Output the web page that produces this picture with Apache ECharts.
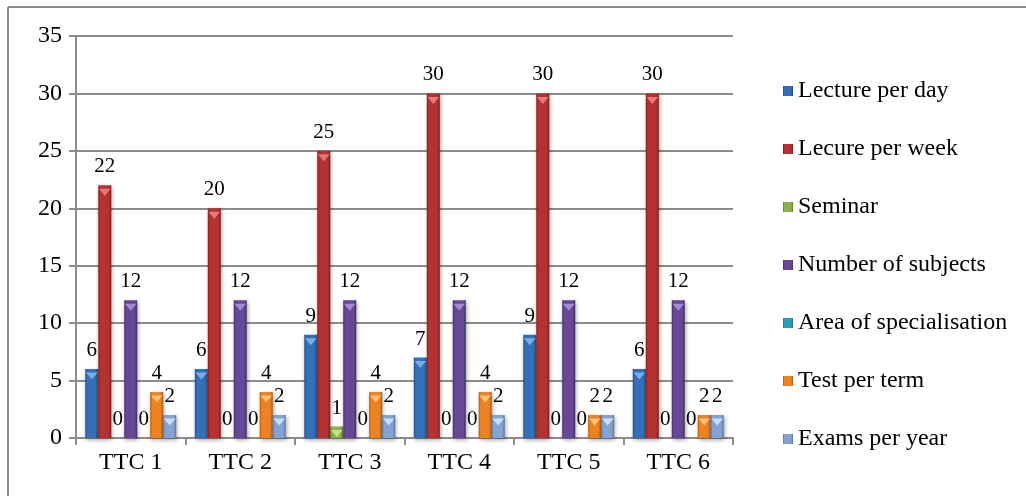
<!DOCTYPE html>
<html>
<head>
<meta charset="utf-8">
<script src="https://cdn.jsdelivr.net/npm/echarts@6/dist/echarts.min.js"></script>
<style>
  html, body { margin: 0; padding: 0; background: #fff; }
  #chart { width: 1026px; height: 496px; }
</style>
</head>
<body>
<div id="chart"></div>
<script>
// Teacher training colleges and their weekly workload figures
const categories = ['TTC 1', 'TTC 2', 'TTC 3', 'TTC 4', 'TTC 5', 'TTC 6'];
const seriesNames = [
  'Lecture per day',
  'Lecure per week',
  'Seminar',
  'Number of subjects',
  'Area of specialisation',
  'Test per term',
  'Exams per year'
];
const lecturePerDay = [6, 6, 9, 7, 9, 6];
const lecurePerWeek = [22, 20, 25, 30, 30, 30];
const seminar = [0, 0, 1, 0, 0, 0];
const numberOfSubjects = [12, 12, 12, 12, 12, 12];
const areaOfSpecialisation = [0, 0, 0, 0, 0, 0];
const testPerTerm = [4, 4, 4, 4, 2, 2];
const examsPerYear = [2, 2, 2, 2, 2, 2];
const yTicks = { min: 0, max: 35, interval: 5 };

const seriesValues = [
  lecturePerDay, lecurePerWeek, seminar, numberOfSubjects,
  areaOfSpecialisation, testPerTerm, examsPerYear
];

// base, dark edge, and light cap colours for each series
const palette = [
  { base: '#3370b8', dark: '#1d4a85', cap: '#78aeea' },
  { base: '#b53232', dark: '#7a1d1d', cap: '#e57878' },
  { base: '#8bb448', dark: '#5a7b26', cap: '#c4e08a' },
  { base: '#674896', dark: '#422d66', cap: '#a48ad0' },
  { base: '#2d9fbb', dark: '#1a6d82', cap: '#80d4ea' },
  { base: '#ec8222', dark: '#ad570f', cap: '#ffc278' },
  { base: '#84a3d3', dark: '#5674a5', cap: '#cadef7' }
];

const serif = 'Liberation Serif';
const barCategoryGap = '17%';

function bevelFill(c) {
  return new echarts.graphic.LinearGradient(0, 0, 1, 0, [
    { offset: 0, color: c.dark },
    { offset: 0.15, color: c.base },
    { offset: 0.8, color: c.base },
    { offset: 1, color: c.dark }
  ]);
}

const barSeries = seriesNames.map((name, i) => ({
  name: name,
  type: 'bar',
  data: seriesValues[i],
  barGap: '0%',
  barCategoryGap: barCategoryGap,
  itemStyle: {
    color: bevelFill(palette[i]),
    shadowColor: 'rgba(0,0,0,0.35)',
    shadowBlur: 4,
    shadowOffsetX: 1,
    shadowOffsetY: 2
  },
  label: {
    show: true,
    position: 'top',
    distance: 8,
    color: '#000',
    fontFamily: serif,
    fontSize: 21
  },
  z: 2
}));

// small inverted pyramid on the top face of each bar
const capSeries = seriesNames.map((name, i) => ({
  name: name,
  type: 'pictorialBar',
  data: seriesValues[i].map(v => (v > 0 ? v : '-')),
  barGap: '0%',
  barCategoryGap: barCategoryGap,
  symbol: 'triangle',
  symbolRotate: 180,
  symbolSize: ['90%', 7],
  symbolPosition: 'end',
  symbolOffset: [0, '50%'],
  itemStyle: { color: palette[i].cap },
  silent: true,
  z: 3
}));

const chart = echarts.init(document.getElementById('chart'), null, { renderer: 'canvas' });
chart.setOption({
  animation: false,
  backgroundColor: '#fff',
  textStyle: { fontFamily: serif },
  color: palette.map(c => c.base),
  grid: { left: 76, right: 293, top: 36, bottom: 58 },
  legend: {
    orient: 'vertical',
    left: 778,
    top: 74,
    data: seriesNames,
    icon: 'rect',
    itemWidth: 10,
    itemHeight: 10,
    itemGap: 34,
    textStyle: { fontFamily: serif, fontSize: 24, color: '#000' }
  },
  xAxis: {
    type: 'category',
    data: categories,
    axisLine: { lineStyle: { color: '#8c8c8c', width: 2 } },
    axisTick: { show: true, length: 7, lineStyle: { color: '#8c8c8c', width: 2 } },
    axisLabel: { fontFamily: serif, fontSize: 24, color: '#000', margin: 13 }
  },
  yAxis: {
    type: 'value',
    min: yTicks.min,
    max: yTicks.max,
    interval: yTicks.interval,
    axisLine: { show: true, lineStyle: { color: '#8c8c8c', width: 2 } },
    axisTick: { show: true, length: 7, lineStyle: { color: '#8c8c8c', width: 2 } },
    axisLabel: { fontFamily: serif, fontSize: 24, color: '#000', margin: 14 },
    splitLine: { lineStyle: { color: '#8c8c8c', width: 2 } }
  },
  graphic: [
    { type: 'line', shape: { x1: 8, y1: 7, x2: 1026, y2: 7 }, style: { stroke: '#8c8c8c', lineWidth: 2 } },
    { type: 'line', shape: { x1: 8, y1: 7, x2: 8, y2: 496 }, style: { stroke: '#8c8c8c', lineWidth: 2 } }
  ],
  series: barSeries.concat(capSeries)
});
</script>
</body>
</html>
